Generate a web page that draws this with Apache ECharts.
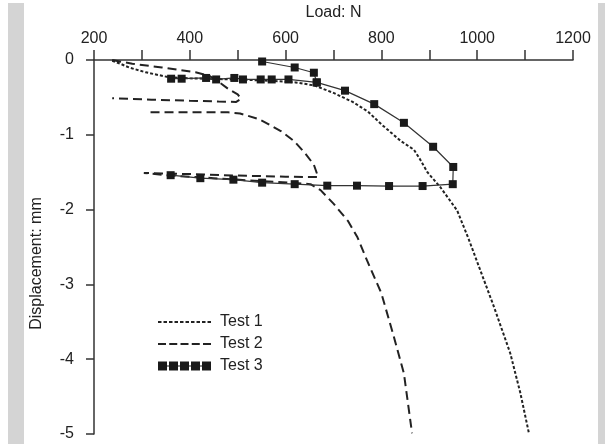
<!DOCTYPE html>
<html>
<head>
<meta charset="utf-8">
<script src="https://cdn.jsdelivr.net/npm/echarts@6/dist/echarts.min.js"></script>
<style>
html,body{margin:0;padding:0;background:#fff;}
#chart{width:605px;height:444px;}
</style>
</head>
<body>
<div id="chart"></div>
<script>
// Tick labels
const xTickLabels = [200, 400, 600, 800, 1000, 1200];
const yTickLabels = [0, -1, -2, -3, -4, -5];

// Test 1 (dotted): [load N, displacement mm]
const test1 = [[238,-0.01],[255,-0.05],[273,-0.10],[308,-0.165],[356,-0.23],[400,-0.245],[460,-0.255],[520,-0.265],[575,-0.28],[621,-0.30],[660,-0.34],[700,-0.44],[740,-0.56],[772,-0.69],[800,-0.86],[840,-1.08],[868,-1.20],[880,-1.32],[896,-1.50],[923,-1.70],[958,-2.01],[982,-2.39],[1000,-2.70],[1035,-3.30],[1069,-3.92],[1090,-4.45],[1108,-4.99]];

// Test 2 (dashed), first loop
const test2a = [[238,0],[280,-0.05],[342,-0.10],[412,-0.165],[440,-0.21],[458,-0.28],[481,-0.39],[500,-0.46],[507,-0.52],[497,-0.56],[460,-0.555],[400,-0.545],[320,-0.53],[238,-0.51]];
// Test 2 (dashed), second part
const test2b = [[318,-0.70],[400,-0.70],[480,-0.70],[505,-0.715],[544,-0.79],[562,-0.85],[590,-0.95],[617,-1.08],[640,-1.24],[659,-1.40],[668,-1.565],[600,-1.56],[500,-1.545],[400,-1.525],[304,-1.51],[360,-1.545],[450,-1.58],[550,-1.62],[620,-1.645],[652,-1.66],[673,-1.74],[700,-1.92],[730,-2.15],[750,-2.37],[770,-2.68],[800,-3.12],[826,-3.70],[847,-4.19],[864,-4.99]];

// Test 3 (solid with squares)
const test3a = [[551,-0.02],[619,-0.10],[659,-0.17],[665,-0.30]];
const test3b = [[361,-0.25],[383,-0.25],[434,-0.24],[455,-0.26],[493,-0.24],[511,-0.26],[548,-0.26],[571,-0.26],[606,-0.26],[665,-0.30],[724,-0.41],[785,-0.59],[847,-0.84],[908,-1.16],[950,-1.43],[949,-1.66],[886,-1.685],[816,-1.685],[749,-1.68],[687,-1.68],[619,-1.66],[551,-1.64],[491,-1.60],[422,-1.58],[360,-1.54]];

const ink = '#222';

function dashes(n, w, period, h) {
  let p = '';
  for (let i = 0; i < n; i++) p += 'M' + (i * period) + ',0h' + w + 'v' + h + 'h-' + w + 'z';
  return 'path://' + p;
}
function squaresIcon() {
  let p = 'M0,4h53v1h-53z';
  for (let i = 0; i < 5; i++) p += 'M' + (i * 11) + ',0h9v9h-9z';
  return 'path://' + p;
}

const chart = echarts.init(document.getElementById('chart'), null, {renderer: 'canvas'});

const dotted = {color: ink, width: 2, type: [3, 2]};
const dashed = {color: ink, width: 2, type: [9, 5]};

chart.setOption({
  animation: false,
  backgroundColor: '#fff',
  textStyle: {fontFamily: 'Liberation Sans, Arial, sans-serif'},
  graphic: [
    {type: 'rect', shape: {x: 8, y: 3, width: 16, height: 441}, style: {fill: '#d4d4d4'}, silent: true},
    {type: 'rect', shape: {x: 598, y: 3, width: 7, height: 441}, style: {fill: '#d4d4d4'}, silent: true}
  ],
  grid: {left: 94, top: 59, right: 32, bottom: 10, containLabel: false},
  legend: {
    orient: 'vertical',
    left: 153,
    top: 309,
    itemWidth: 53,
    itemHeight: 14,
    itemGap: 6,
    symbolKeepAspect: true,
    textStyle: {fontSize: 16, color: ink, padding: [0, 0, 0, 4]},
    data: [
      {name: 'Test 1', icon: dashes(10, 3.5, 5.5, 2), itemStyle: {color: ink, borderWidth: 0}},
      {name: 'Test 2', icon: dashes(5, 8, 11.25, 2), itemStyle: {color: ink, borderWidth: 0}},
      {name: 'Test 3', icon: squaresIcon(), itemStyle: {color: '#1a1a1a', borderWidth: 0}}
    ]
  },
  xAxis: {
    type: 'value',
    position: 'top',
    min: 200, max: 1200, interval: 100,
    name: 'Load: N',
    nameLocation: 'middle',
    nameGap: 39,
    nameTextStyle: {fontSize: 16, color: ink},
    axisLine: {show: true, lineStyle: {color: '#333', width: 1.5}},
    axisTick: {show: true, inside: false, length: 10, lineStyle: {color: '#333', width: 1.5}},
    axisLabel: {
      fontSize: 16, color: ink, margin: 13,
      formatter: v => xTickLabels.indexOf(v) >= 0 ? String(v) : ''
    },
    splitLine: {show: false}
  },
  yAxis: {
    type: 'value',
    min: -5, max: 0, interval: 1,
    name: 'Displacement: mm',
    nameLocation: 'middle',
    nameGap: 49,
    nameTextStyle: {fontSize: 16, color: ink, padding: [0, 33, 0, 0]},
    axisLine: {show: true, onZero: false, lineStyle: {color: '#333', width: 1.5}},
    axisTick: {show: true, inside: false, length: 8, lineStyle: {color: '#333', width: 1.5}},
    axisLabel: {
      fontSize: 16, color: ink, margin: 20,
      formatter: v => yTickLabels.indexOf(v) >= 0 ? String(v) : ''
    },
    splitLine: {show: false}
  },
  series: [
    {name: 'Test 1', type: 'line', data: test1, symbol: 'none', lineStyle: dotted, itemStyle: {color: ink}, z: 2},
    {name: 'Test 2', type: 'line', data: test2a, symbol: 'none', lineStyle: dashed, itemStyle: {color: ink}, z: 2},
    {name: 'Test 2', type: 'line', data: test2b, symbol: 'none', lineStyle: dashed, itemStyle: {color: ink}, z: 2},
    {name: 'Test 3', type: 'line', data: test3a, symbol: 'rect', symbolSize: 8, lineStyle: {color: '#333', width: 1.2}, itemStyle: {color: '#1a1a1a'}, z: 3},
    {name: 'Test 3', type: 'line', data: test3b, symbol: 'rect', symbolSize: 8, lineStyle: {color: '#333', width: 1.2}, itemStyle: {color: '#1a1a1a'}, z: 3}
  ]
});
</script>
</body>
</html>
